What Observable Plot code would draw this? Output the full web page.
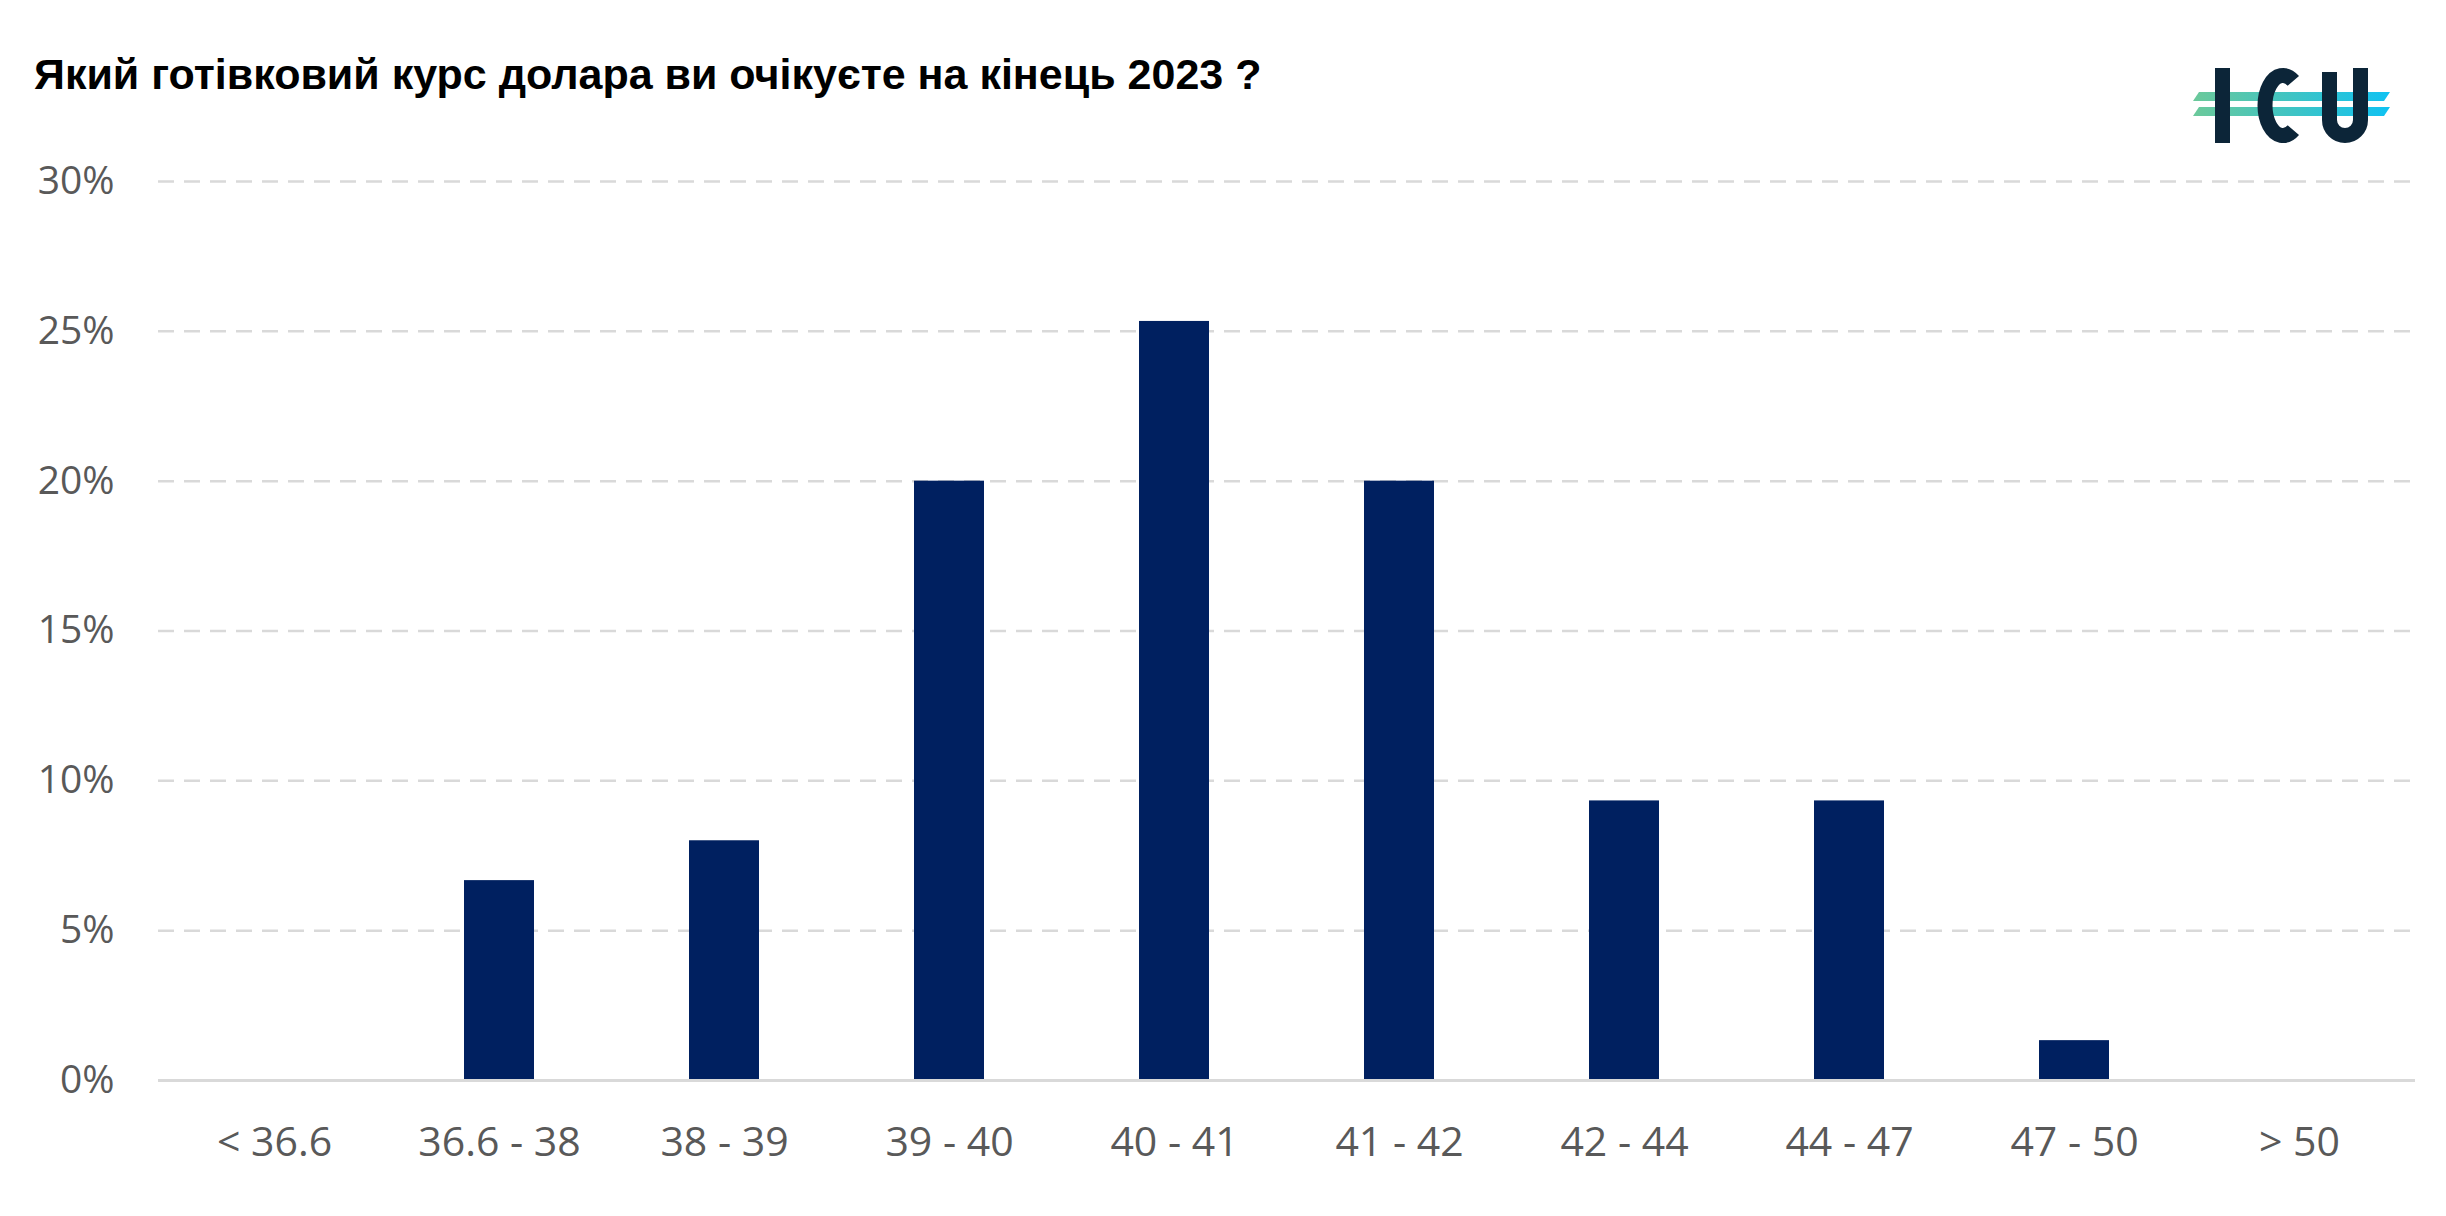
<!DOCTYPE html>
<html>
<head>
<meta charset="utf-8">
<script src="https://cdn.jsdelivr.net/npm/d3@7"></script>
<script src="https://cdn.jsdelivr.net/npm/@observablehq/plot@0.6"></script>
<style>
  html, body { margin: 0; padding: 0; background: #fff; }
  #wrap { position: relative; width: 2446px; height: 1216px; overflow: hidden; }
  #header { position: relative; height: 110px; }
  #title { position: absolute; left: 34px; top: 53px; font-family: "Liberation Sans", Arial, sans-serif; font-weight: bold; font-size: 43px; line-height: 43px; color: #000; white-space: nowrap; }
  #logo { position: absolute; left: 0; top: 0; z-index: 2; overflow: visible; }
</style>
</head>
<body>
<div id="wrap">
  <div id="header">
    <div id="title">Який готівковий курс долара ви очікуєте на кінець 2023 ?</div>
  </div>
  <svg id="logo" width="2446" height="160">
    <defs>
      <linearGradient id="lg" x1="2192" x2="2390" y1="0" y2="0" gradientUnits="userSpaceOnUse">
        <stop offset="0" stop-color="#6cc99a"/>
        <stop offset="0.5" stop-color="#3fc4c4"/>
        <stop offset="1" stop-color="#10c2f2"/>
      </linearGradient>
    </defs>
  </svg>
  <div id="chart"></div>
</div>
<script>
// ---- data ----
const categories = ["< 36.6", "36.6 - 38", "38 - 39", "39 - 40", "40 - 41", "41 - 42", "42 - 44", "44 - 47", "47 - 50", "> 50"];
const shares = [0, 6.67, 8.0, 20.0, 25.33, 20.0, 9.33, 9.33, 1.33, 0];
const yTicks = [0, 5, 10, 15, 20, 25, 30];
const gridTicks = [5, 10, 15, 20, 25, 30];

const data = categories.map((c, i) => ({category: c, value: shares[i]}));

const chart = Plot.plot({
  width: 2446,
  height: 1106,
  marginTop: 71,
  marginBottom: 136,
  marginLeft: 158,
  marginRight: 31,
  style: {background: "#fff", color: "#595959", fontFamily: "'Open Sans', sans-serif"},
  x: {domain: categories, paddingInner: 0.69, paddingOuter: 0.345, label: null},
  y: {domain: [0, 30], label: null},
  marks: [
    Plot.ruleY(gridTicks, {stroke: "#d9d9d9", strokeWidth: 2.5, strokeDasharray: "16,10"}),
    Plot.barY(data, {x: "category", y: "value", fill: "#002060"}),
    Plot.ruleY([0], {stroke: "#d9d9d9", strokeWidth: 3}),
    Plot.axisY({ticks: yTicks, tickSize: 0, tickPadding: 44, tickFormat: d => d + "%", fontSize: 39, fontFamily: "'Open Sans', sans-serif", label: null}),
    Plot.axisX({tickSize: 0, tickPadding: 46, fontSize: 41, fontFamily: "'Open Sans', sans-serif", label: null})
  ]
});
document.getElementById("chart").appendChild(chart);

// ---- logo (decoration) ----
const logo = d3.select("#logo");
const navy = "#0c2538";
logo.append("polygon").attr("points", "2199,92 2390,92 2384,101 2193,101").attr("fill", "url(#lg)");
logo.append("polygon").attr("points", "2199,107 2390,107 2384,116 2193,116").attr("fill", "url(#lg)");
logo.append("rect").attr("x", 2215).attr("y", 68).attr("width", 15).attr("height", 75).attr("fill", navy);
// C
(function(){
  const cx = 2283, cy = 105.5, rx = 18, ry = 30;
  const a0 = -55 * Math.PI / 180, a1 = 55 * Math.PI / 180;
  const p0 = [cx + rx * Math.cos(a0), cy + ry * Math.sin(a0)];
  const p1 = [cx + rx * Math.cos(a1), cy + ry * Math.sin(a1)];
  logo.append("path")
    .attr("d", `M${p0[0]},${p0[1]} A${rx},${ry} 0 1 0 ${p1[0]},${p1[1]}`)
    .attr("fill", "none").attr("stroke", navy).attr("stroke-width", 15);
})();
// U
logo.append("path").attr("d", "M2329.5,72 V120 A15.5,15.5 0 0 0 2360.5,120 V68")
  .attr("fill", "none").attr("stroke", navy).attr("stroke-width", 15);
</script>
</body>
</html>
